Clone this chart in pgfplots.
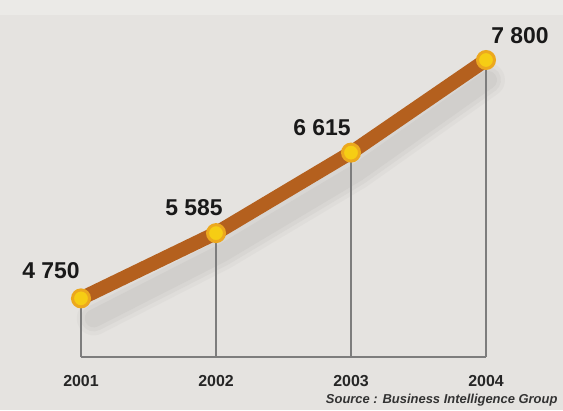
\documentclass[border=0pt]{standalone}
\usepackage{pgfplots}
\pgfplotsset{compat=1.18}
\usepackage{fontspec}
\setmainfont{Liberation Sans}
\definecolor{bg}{RGB}{229,227,224}
\definecolor{brownline}{RGB}{180,96,30}
\definecolor{dotfill}{RGB}{246,205,20}
\definecolor{dotring}{RGB}{236,168,30}
\definecolor{gridc}{RGB}{125,125,125}
\definecolor{shadowc}{RGB}{185,183,180}
\begin{document}
\begin{tikzpicture}[x=1bp,y=1bp]
\fill[bg] (0,0) rectangle (563,410);
\fill[white,opacity=0.25] (0,395) rectangle (563,410);
\begin{axis}[
  at={(81bp,53bp)}, anchor=south west,
  scale only axis, width=405bp, height=297bp,
  xmin=2001, xmax=2004, ymin=4000, ymax=7800,
  axis lines=none, clip=false,
]
% soft shadow (layered)
\addplot[shadowc, line width=34bp, opacity=0.12, line cap=round, line join=round, shift={(6bp,-20bp)}] coordinates {(2001.05,4750) (2002,5585) (2003,6615) (2003.97,7800)};
\addplot[shadowc, line width=26bp, opacity=0.18, line cap=round, line join=round, shift={(6bp,-20bp)}] coordinates {(2001.05,4750) (2002,5585) (2003,6615) (2003.97,7800)};
\addplot[shadowc, line width=18bp, opacity=0.22, line cap=round, line join=round, shift={(6bp,-20bp)}] coordinates {(2001.05,4750) (2002,5585) (2003,6615) (2003.97,7800)};
% baseline and verticals
\addplot[gridc, line width=1.5bp] coordinates {(2001,4000) (2004,4000)};
\addplot[gridc, line width=1.5bp] coordinates {(2001,4000) (2001,4750)};
\addplot[gridc, line width=1.5bp] coordinates {(2002,4000) (2002,5585)};
\addplot[gridc, line width=1.5bp] coordinates {(2003,4000) (2003,6615)};
\addplot[gridc, line width=1.5bp] coordinates {(2004,4000) (2004,7800)};
% main line
\addplot[brownline, line width=14bp, line join=round] coordinates {(2001,4750) (2002,5585) (2003,6615) (2004,7800)};
\addplot[only marks, mark=*, mark size=8.5bp, mark options={fill=dotfill, draw=dotring, line width=3bp}] coordinates {(2001,4750) (2002,5585) (2003,6615) (2004,7800)};
% value labels
\node[font=\bfseries\fontsize{23}{23}\selectfont, text=black!90] at (axis cs:2001,4750) [xshift=-30bp, yshift=28bp] {4 750};
\node[font=\bfseries\fontsize{23}{23}\selectfont, text=black!90] at (axis cs:2002,5585) [xshift=-22bp, yshift=26bp] {5 585};
\node[font=\bfseries\fontsize{23}{23}\selectfont, text=black!90] at (axis cs:2003,6615) [xshift=-29bp, yshift=25bp] {6 615};
\node[font=\bfseries\fontsize{23}{23}\selectfont, text=black!90] at (axis cs:2004,7800) [xshift=34bp, yshift=24bp] {7 800};
% year labels
\node[font=\bfseries\fontsize{16}{16}\selectfont, text=black!85] at (axis cs:2001,4000) [yshift=-24bp] {2001};
\node[font=\bfseries\fontsize{16}{16}\selectfont, text=black!85] at (axis cs:2002,4000) [yshift=-24bp] {2002};
\node[font=\bfseries\fontsize{16}{16}\selectfont, text=black!85] at (axis cs:2003,4000) [yshift=-24bp] {2003};
\node[font=\bfseries\fontsize{16}{16}\selectfont, text=black!85] at (axis cs:2004,4000) [yshift=-24bp] {2004};
\end{axis}
\node[anchor=east, font=\bfseries\itshape\fontsize{13}{13}\selectfont, text=black!80] at (561,10) {Source : Business Intelligence Group};
\end{tikzpicture}
\end{document}
